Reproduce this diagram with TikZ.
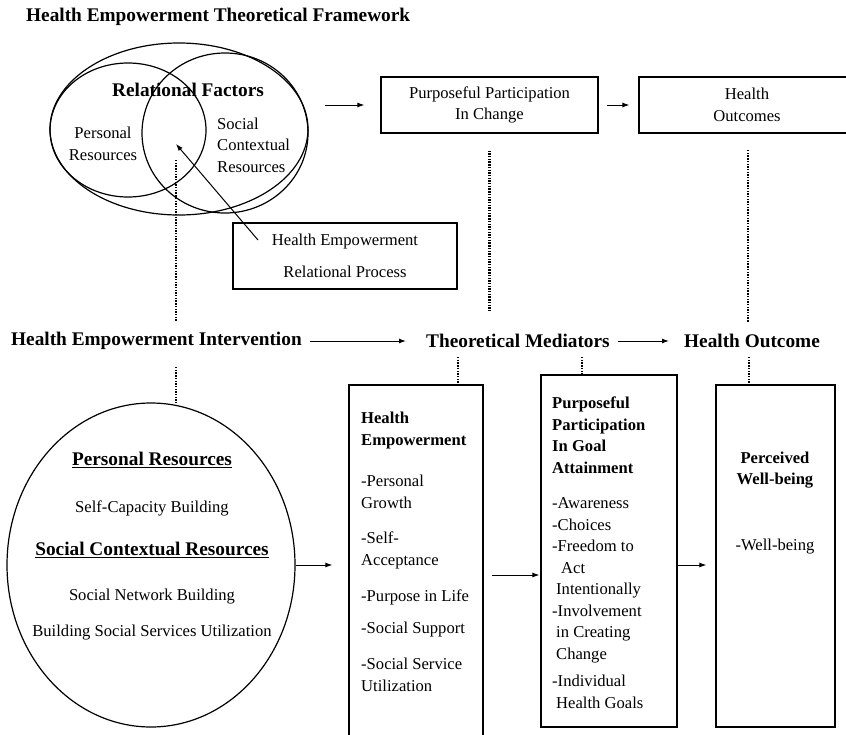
\documentclass[tikz,border=0pt]{standalone}
\usepackage{fontspec}
\setmainfont{Liberation Serif}
\usetikzlibrary{positioning,arrows.meta,shapes.geometric}

\tikzset{
  hdr/.style={font=\fontsize{19.3}{22}\selectfont\bfseries,inner sep=1pt},
  txt/.style={font=\fontsize{16.6}{21.5}\selectfont,align=center,inner sep=0pt},
  lst/.style={font=\fontsize{16.6}{21.5}\selectfont,align=left,inner sep=0pt},
  boxed/.style={draw,line width=1.2pt},
  dotline/.style={line width=2.6pt,dash pattern=on 1.4pt off 1.3pt},
  arr/.style={-{Latex[length=7pt,width=5pt]},line width=1pt},
}

\begin{document}
\begin{tikzpicture}[x=1pt,y=-1pt]
  \useasboundingbox (0,0) rectangle (846,734);

  %% title
  %% ------------------------------------
  \node[hdr,anchor=west] (title) at (25,17) {Health Empowerment Theoretical Framework};

  %% relational factors (ellipses)
  %% ------------------------------------
  \coordinate (rfbig) at (179,129);
  \draw[line width=1.2pt] (rfbig) ellipse (129 and 86);
  \draw[line width=1.2pt] (128,130) ellipse (78 and 67);
  \draw[line width=1.2pt] (225,133) ellipse (83 and 80);
  \coordinate (rfeast) at (308,105);
  \coordinate (rfc) at (176,144);
  \coordinate (rfd) at (176,160);

  \node[hdr] (rfac) at (188,90) {Relational Factors};
  \node[txt] (pres) at (103,144) {Personal\\Resources};
  \node[lst,anchor=west] (scres) at (217,145) {Social\\Contextual\\Resources};

  %% top row boxes
  %% ------------------------------------
  \node[boxed,txt,minimum width=217,minimum height=56] (ppc) at (489.5,105)
        {Purposeful Participation\\In Change};
  \node[boxed,txt,minimum width=216,minimum height=56] (hout) at (747,105)
        {Health\\Outcomes};
  \node[boxed,txt,minimum width=224,minimum height=66] (hepr) at (345,256)
        {Health Empowerment\\[11pt]Relational Process};
  \coordinate (hp) at (258,240);

  \draw[arr,shorten <=17pt,shorten >=16pt] (rfeast) -- (rfeast -| ppc.west);
  \draw[arr,shorten <=8pt,shorten >=9pt] (ppc.east) -- (hout.west);
  \draw[arr] (hp) -- (rfc);

  %% middle row
  %% ------------------------------------
  \node[hdr,anchor=west] (hei) at (10,341) {Health Empowerment Intervention};
  \node[hdr,anchor=west] (thm) at (425,341) {Theoretical Mediators};
  \node[hdr,anchor=west] (hoc) at (683,341) {Health Outcome};

  \draw[arr,shorten <=7pt,shorten >=19pt] (hei.east) -- (thm.west);
  \draw[arr,shorten <=7pt,shorten >=14pt] (thm.east) -- (hoc.west);

  %% dotted links, top to middle
  \draw[dotline,shorten >=10pt] (rfd) -- (rfd |- hei.north);
  \draw[dotline,shorten <=17pt,shorten >=21pt] (ppc.south) -- (ppc.south |- thm.north);
  \coordinate (hod) at (748,150);
  \draw[dotline,shorten >=11pt] (hod) -- (hod |- hoc.north);

  %% resources circle
  %% ------------------------------------
  \node[draw,ellipse,line width=1.2pt,minimum width=288,minimum height=324,inner sep=0pt] (res) at (151,565) {};
  \node[font=\fontsize{19.3}{22}\selectfont\bfseries,inner sep=0pt] (prs) at (152,460) {\underline{Personal Resources}};
  \node[txt] (scb) at (152,508) {Self-Capacity Building};
  \node[font=\fontsize{19.3}{22}\selectfont\bfseries,inner sep=0pt] (scr) at (152,550) {\underline{Social Contextual Resources}};
  \node[txt] (snb) at (152,597) {Social Network Building};
  \node[txt] (bss) at (152,633) {Building Social Services Utilization};

  \coordinate (dR) at (176,367);
  \draw[dotline] (dR) -- (dR |- res.north);

  %% mediator and outcome boxes
  %% ------------------------------------
  \node[boxed,minimum width=134,minimum height=360,inner sep=0pt] (hebox) at (416,565) {};
  \node[boxed,minimum width=136,minimum height=352,inner sep=0pt] (pgbox) at (609,551) {};
  \node[boxed,minimum width=119,minimum height=342,inner sep=0pt] (pwbox) at (775.5,556) {};

  \node[lst,anchor=north west] (hetx) at (361,412)
    {\textbf{Health}\\\textbf{Empowerment}\\[20pt]-Personal\\Growth\\[14pt]-Self-\\Acceptance\\[15pt]%
     -Purpose in Life\\[10pt]-Social Support\\[15pt]-Social Service\\Utilization};
  \node[lst,anchor=north west] (pgtx) at (552,397)
    {\textbf{Purposeful}\\\textbf{Participation}\\\textbf{In Goal}\\\textbf{Attainment}\\[14pt]%
     -Awareness\\-Choices\\-Freedom to\\\hspace*{9pt}Act\\\hspace*{4pt}Intentionally\\%
     -Involvement\\\hspace*{4pt}in Creating\\\hspace*{4pt}Change\\[6pt]-Individual\\\hspace*{4pt}Health Goals};
  \node[txt] (pwtx) at (775,470) {\textbf{Perceived}\\\textbf{Well-being}};
  \node[txt] (wbtx) at (775,547) {-Well-being};

  \coordinate (dA) at (458,357);
  \coordinate (dB) at (582,357);
  \coordinate (dC) at (749,357);
  \draw[dotline] (dA) -- (dA |- hebox.north);
  \draw[dotline] (dB) -- (dB |- pgbox.north);
  \draw[dotline] (dC) -- (dC |- pwbox.north);

  %% arrows between bottom blocks
  \coordinate (a2) at (483,575);
  \coordinate (a3) at (677,565);
  \draw[arr,shorten >=16pt] (res.east) -- (res.east -| hebox.west);
  \draw[arr,shorten <=9pt,shorten >=1pt] (a2) -- (a2 -| pgbox.west);
  \draw[arr,shorten <=1pt,shorten >=9pt] (a3) -- (a3 -| pwbox.west);

\end{tikzpicture}
\end{document}
